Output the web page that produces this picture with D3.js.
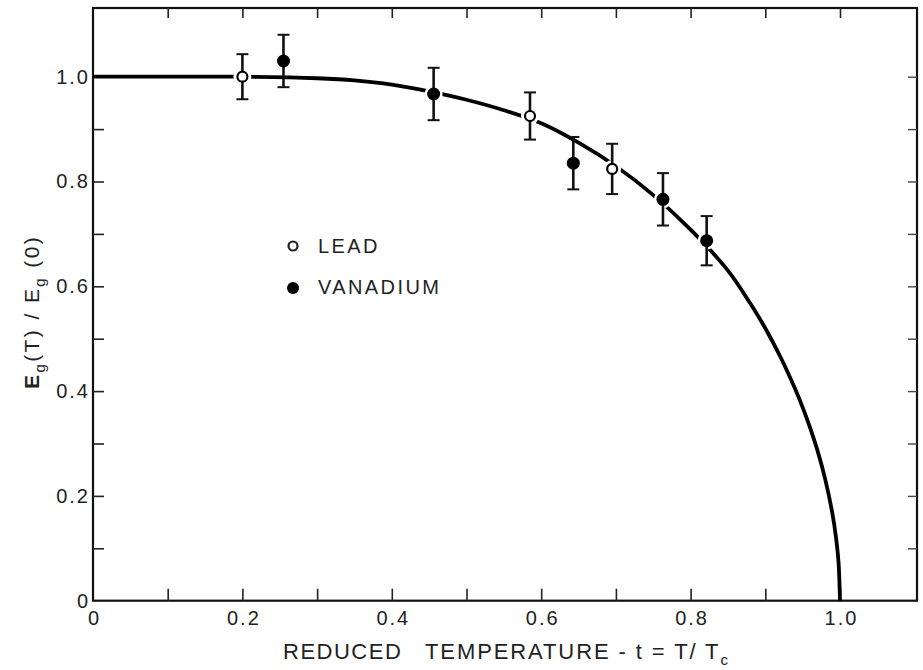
<!DOCTYPE html>
<html><head><meta charset="utf-8">
<script src="https://cdn.jsdelivr.net/npm/d3@7"></script>
<style>body{margin:0;background:#fff}svg text{font-family:"Liberation Sans",Arial,sans-serif;fill:#222}</style>
</head><body><svg id="c" width="923" height="670"></svg>
<script>
// BCS-like theory curve
const curveT = [0,0.1,0.2,0.3,0.35,0.4,0.45,0.5,0.55,0.6,0.65,0.7,0.75,0.8,0.85,0.88,0.9,0.92,0.94,0.95,0.96,0.97,0.98,0.99,0.995,0.998,1.0];
const curveV = [1.0,1.0,1.0,0.997,0.993,0.985,0.972,0.956,0.936,0.911,0.874,0.829,0.774,0.708,0.630,0.567,0.520,0.466,0.404,0.369,0.330,0.286,0.233,0.165,0.117,0.074,0];
// Lead (open circles)
const leadT = [0.2,0.585,0.695];
const leadV = [1.0,0.925,0.824];
const leadErr = [0.043,0.045,0.048];
// Vanadium (filled)
const vanT = [0.255,0.456,0.643,0.763,0.8215];
const vanV = [1.03,0.967,0.835,0.766,0.687];
const vanErr = [0.05,0.05,0.05,0.05,0.047];
const xLabels = ["0","0.2","0.4","0.6","0.8","1.0"];
const yLabels = ["0","0.2","0.4","0.6","0.8","1.0"];

const svg = d3.select("#c");
const x = d3.scaleLinear().domain([0,1]).range([93,840]);
const y = d3.scaleLinear().domain([0,1]).range([600.7,76.7]);
const xMax = x.invert(917), yMax = y.invert(8);
const g = svg.append("g");

// frame
g.append("rect").attr("x",x(0)).attr("y",y(yMax)).attr("width",x(xMax)-x(0)).attr("height",y(0)-y(yMax))
 .attr("fill","none").attr("stroke","#111").attr("stroke-width",2.2);

const minor = d3.range(1,11).map(i=>i/10);
g.append("g").attr("transform",`translate(0,${y(0)})`)
 .call(d3.axisTop(x).tickValues(minor).tickSize(12).tickFormat(""))
 .call(a=>{a.select(".domain").remove();a.selectAll("line").attr("stroke","#222").attr("stroke-width",1.6);});
g.append("g").attr("transform",`translate(0,${y(yMax)})`)
 .call(d3.axisBottom(x).tickValues(minor).tickSize(10).tickFormat(""))
 .call(a=>{a.select(".domain").remove();a.selectAll("line").attr("stroke","#222").attr("stroke-width",1.6);});
g.append("g").attr("transform",`translate(${x(0)},0)`)
 .call(d3.axisRight(y).tickValues(minor).tickSize(11).tickFormat(""))
 .call(a=>{a.select(".domain").remove();a.selectAll("line").attr("stroke","#222").attr("stroke-width",1.6);});
g.append("g").attr("transform",`translate(${x(xMax)},0)`)
 .call(d3.axisLeft(y).tickValues(minor).tickSize(9).tickFormat(""))
 .call(a=>{a.select(".domain").remove();a.selectAll("line").attr("stroke","#444").attr("stroke-width",1.4);});

// x labels
g.append("g").attr("transform",`translate(0,${y(0)})`)
 .call(d3.axisBottom(x).tickValues([0,0.2,0.4,0.6,0.8,1.0]).tickSize(0).tickPadding(10).tickFormat((d,i)=>xLabels[i]))
 .call(a=>{a.select(".domain").remove();a.selectAll("text").attr("font-size",20).attr("letter-spacing",2).attr("dx",1).attr("fill","#222").style("font-family","Liberation Sans, Arial, sans-serif");});
// y labels
g.append("g").attr("transform",`translate(${x(0)},0)`)
 .call(d3.axisLeft(y).tickValues([0,0.2,0.4,0.6,0.8,1.0]).tickSize(0).tickPadding(3).tickFormat((d,i)=>yLabels[i]))
 .call(a=>{a.select(".domain").remove();a.selectAll("text").attr("font-size",20).attr("letter-spacing",2).attr("fill","#222").style("font-family","Liberation Sans, Arial, sans-serif");});

// theory curve
const pts = curveT.map((t,i)=>[t,curveV[i]]);
g.append("path").datum(pts).attr("fill","none").attr("stroke","#000").attr("stroke-width",3.8)
 .attr("d",d3.line().x(d=>x(d[0])).y(d=>y(d[1])).curve(d3.curveCatmullRom.alpha(0.5)));

function drawSeries(ts,vs,es,filled){
  const data = ts.map((t,i)=>({t,v:vs[i],e:es[i]}));
  const s = g.append("g");
  s.selectAll(".halo").data(data).join("circle").attr("cx",d=>x(d.t)).attr("cy",d=>y(d.v)).attr("r",9).attr("fill","#fff");
  s.selectAll(".eb").data(data).join("line").attr("x1",d=>x(d.t)).attr("x2",d=>x(d.t))
   .attr("y1",d=>y(d.v+d.e)).attr("y2",d=>y(d.v-d.e)).attr("stroke","#111").attr("stroke-width",2.6);
  [1,-1].forEach(sg=>{
    s.selectAll(".cap"+sg).data(data).join("line").attr("x1",d=>x(d.t)-6).attr("x2",d=>x(d.t)+6)
     .attr("y1",d=>y(d.v+sg*d.e)).attr("y2",d=>y(d.v+sg*d.e)).attr("stroke","#111").attr("stroke-width",2);
  });
  s.selectAll(".m").data(data).join("circle").attr("cx",d=>x(d.t)).attr("cy",d=>y(d.v))
   .attr("r",filled?6.5:5).attr("fill",filled?"#000":"#fff").attr("stroke","#000").attr("stroke-width",filled?0:2.2);
}
drawSeries(leadT,leadV,leadErr,false);
drawSeries(vanT,vanV,vanErr,true);

// legend
const leg = g.append("g");
leg.append("circle").attr("cx",293).attr("cy",246).attr("r",4.5).attr("fill","#fff").attr("stroke","#222").attr("stroke-width",2.2);
leg.append("text").attr("x",318).attr("y",253).attr("font-size",20).attr("letter-spacing",2.4).text("LEAD");
leg.append("circle").attr("cx",293).attr("cy",288).attr("r",6).attr("fill","#000");
leg.append("text").attr("x",318).attr("y",294).attr("font-size",20).attr("letter-spacing",2.4).text("VANADIUM");

// axis titles
const xt = svg.append("text").attr("y",659).attr("font-size",22).attr("letter-spacing",1.5);
xt.append("tspan").attr("x",283).text("REDUCED");
xt.append("tspan").attr("x",425).attr("letter-spacing",1.9).text("TEMPERATURE - t = T/ T");
xt.append("tspan").attr("font-size",15).attr("dy",6).text("c");

const yt = svg.append("text").attr("transform","translate(39,389) rotate(-90)").attr("font-size",21).attr("letter-spacing",2.4);
yt.append("tspan").attr("font-weight","bold").text("E");
yt.append("tspan").attr("font-size",15).attr("dy",6).text("g");
yt.append("tspan").attr("dy",-6).text("(T) / E");
yt.append("tspan").attr("font-size",15).attr("dy",6).text("g");
yt.append("tspan").attr("dy",-6).text(" (0)");
</script></body></html>
